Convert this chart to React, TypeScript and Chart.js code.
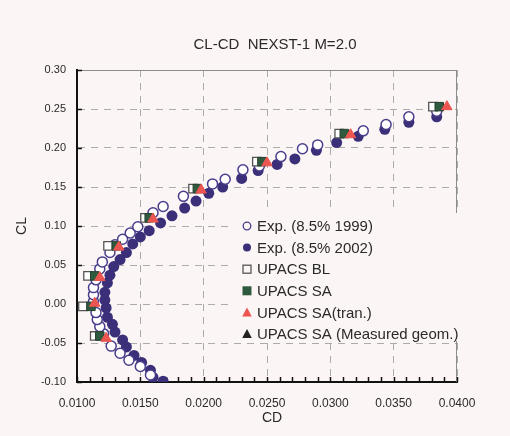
import React, { useEffect, useRef } from "react";
import { Chart, registerables } from "chart.js";

Chart.register(...registerables);

const chartTitle = "CL-CD  NEXST-1 M=2.0";
const xAxisTitle = "CD";
const yAxisTitle = "CL";
const xMin = 0.01;
const xMax = 0.04;
const xStep = 0.005;
const xMinorStep = 0.001;
const yMin = -0.1;
const yMax = 0.3;
const yStep = 0.05;

const legendLabels = [
  "Exp. (8.5% 1999)",
  "Exp. (8.5% 2002)",
  "UPACS BL",
  "UPACS SA",
  "UPACS SA(tran.)",
  "UPACS SA (Measured geom.)",
];

// Exp. (8.5% 1999) - open circles
const exp1999CD = [0.0158, 0.0150, 0.0141, 0.0134, 0.0127, 0.0121, 0.0118, 0.0116, 0.0115, 0.0113, 0.0113, 0.0113, 0.0115, 0.0118, 0.0120, 0.0126, 0.0130, 0.0136, 0.0142, 0.0148, 0.0160, 0.0168, 0.0184, 0.0207, 0.0217, 0.0231, 0.0244, 0.0261, 0.0278, 0.0290, 0.0326, 0.0344, 0.0362, 0.0384];
const exp1999CL = [-0.091, -0.080, -0.072, -0.063, -0.054, -0.038, -0.029, -0.020, -0.011, 0.003, 0.012, 0.021, 0.031, 0.045, 0.054, 0.066, 0.076, 0.083, 0.091, 0.099, 0.117, 0.125, 0.138, 0.154, 0.160, 0.172, 0.177, 0.189, 0.199, 0.204, 0.222, 0.230, 0.240, 0.247];

// Exp. (8.5% 2002) - filled circles
const exp2002CD = [0.0168, 0.0160, 0.0158, 0.0151, 0.0145, 0.0139, 0.0136, 0.0130, 0.0128, 0.0124, 0.0123, 0.0122, 0.0122, 0.0124, 0.0126, 0.0129, 0.0134, 0.0139, 0.0144, 0.0150, 0.0157, 0.0166, 0.0175, 0.0185, 0.0194, 0.0204, 0.0215, 0.0230, 0.0243, 0.0258, 0.0272, 0.0289, 0.0305, 0.0322, 0.0343, 0.0362, 0.0384];
const exp2002CL = [-0.099, -0.094, -0.085, -0.075, -0.066, -0.055, -0.046, -0.036, -0.026, -0.017, -0.005, 0.005, 0.015, 0.027, 0.037, 0.048, 0.057, 0.066, 0.077, 0.086, 0.094, 0.104, 0.113, 0.123, 0.132, 0.142, 0.150, 0.161, 0.171, 0.179, 0.186, 0.197, 0.207, 0.215, 0.224, 0.233, 0.240];

// UPACS BL - open squares
const blCD = [0.0114, 0.01047, 0.01087, 0.01245, 0.01537, 0.01916, 0.0242, 0.0307, 0.0381];
const blCL = [-0.041, -0.003, 0.036, 0.0745, 0.1105, 0.148, 0.1825, 0.2185, 0.253];

// UPACS SA - filled squares
const saCD = [0.0118, 0.0111, 0.0114, 0.0131, 0.0157, 0.0195, 0.0246, 0.0311, 0.0386];
const saCL = [-0.041, -0.003, 0.036, 0.0745, 0.1105, 0.148, 0.1825, 0.2185, 0.253];

// UPACS SA(tran.) - red triangles
const tranCD = [0.0123, 0.0114, 0.0118, 0.0133, 0.0160, 0.0198, 0.0250, 0.0316, 0.0392];
const tranCL = [-0.044, 0.001, 0.034, 0.073, 0.109, 0.146, 0.181, 0.217, 0.253];

// UPACS SA (Measured geom.) - black triangles (no visible points)
const measCD: number[] = [];
const measCL: number[] = [];

const BG = "#fcf5f6";
const OPEN_C = "#4a3e8c";
const FILL_C = "#3a2f78";
const SQ_C = "#555555";
const SA_C = "#2f5a3e";
const TRI_C = "#ec5550";
const GRID_C = "#ababab";
const FONT = "'Liberation Sans', Arial, sans-serif";

const zip = (xs: number[], ys: number[]) => xs.map((x, i) => ({ x, y: ys[i] }));

const decorPlugin = {
  id: "decor",
  beforeDraw(chart: any) {
    const { ctx, width, height } = chart;
    ctx.save();
    ctx.fillStyle = BG;
    ctx.fillRect(0, 0, width, height);
    ctx.restore();
  },
  beforeDatasetsDraw(chart: any) {
    const { ctx, chartArea: a, scales } = chart;
    const xs = scales.x;
    const ys = scales.y;
    ctx.save();
    // top & right frame
    ctx.strokeStyle = "#8c8c8c";
    ctx.lineWidth = 1;
    ctx.setLineDash([]);
    ctx.beginPath();
    ctx.moveTo(a.left, a.top + 0.5);
    ctx.lineTo(a.right - 0.5, a.top + 0.5);
    ctx.lineTo(a.right - 0.5, a.bottom);
    ctx.stroke();
    // legend box background (hides grid behind legend)
    ctx.fillStyle = BG;
    ctx.fillRect(a.left + 152, a.top + 143, a.right - a.left - 150, 128);
    // inward ticks
    ctx.strokeStyle = "#111";
    ctx.lineWidth = 1.5;
    const n = Math.round((xMax - xMin) / xMinorStep);
    for (let i = 0; i <= n; i++) {
      const v = xMin + i * xMinorStep;
      const px = Math.round(xs.getPixelForValue(v)) + 0.5;
      ctx.beginPath();
      ctx.moveTo(px, a.bottom);
      ctx.lineTo(px, a.bottom - 5);
      ctx.stroke();
    }
    const m = Math.round((yMax - yMin) / yStep);
    for (let i = 0; i <= m; i++) {
      const v = yMin + i * yStep;
      const py = Math.round(ys.getPixelForValue(v)) + 0.5;
      ctx.beginPath();
      ctx.moveTo(a.left, py);
      ctx.lineTo(a.left + 5, py);
      ctx.stroke();
    }
    ctx.restore();
  },
  afterDraw(chart: any) {
    const { ctx, chartArea: a } = chart;
    ctx.save();
    ctx.fillStyle = "#2a2a2a";
    // chart title
    ctx.font = `15px ${FONT}`;
    ctx.textAlign = "center";
    ctx.textBaseline = "middle";
    ctx.fillText(chartTitle, a.left + 198, a.top - 25);
    // axis titles
    ctx.font = `14px ${FONT}`;
    ctx.fillText(xAxisTitle, (a.left + a.right) / 2 + 5, a.bottom + 36);
    ctx.save();
    ctx.translate(22, (a.top + a.bottom) / 2);
    ctx.rotate(-Math.PI / 2);
    ctx.fillText(yAxisTitle, 0, 0);
    ctx.restore();
    // legend
    const lx = a.left + 170;
    const ly0 = a.top + 156;
    const dy = 21.6;
    ctx.textAlign = "left";
    ctx.font = `15px ${FONT}`;
    legendLabels.forEach((label, i) => {
      const cy = ly0 + i * dy;
      const cx = lx;
      ctx.save();
      ctx.lineWidth = 1.3;
      if (i === 0) {
        ctx.strokeStyle = OPEN_C;
        ctx.fillStyle = BG;
        ctx.beginPath();
        ctx.arc(cx, cy, 3.8, 0, Math.PI * 2);
        ctx.fill();
        ctx.stroke();
      } else if (i === 1) {
        ctx.fillStyle = FILL_C;
        ctx.beginPath();
        ctx.arc(cx, cy, 4, 0, Math.PI * 2);
        ctx.fill();
      } else if (i === 2) {
        ctx.strokeStyle = SQ_C;
        ctx.fillStyle = BG;
        ctx.fillRect(cx - 4, cy - 4, 8, 8);
        ctx.strokeRect(cx - 4, cy - 4, 8, 8);
      } else if (i === 3) {
        ctx.fillStyle = SA_C;
        ctx.fillRect(cx - 4.5, cy - 4.5, 9, 9);
      } else {
        ctx.fillStyle = i === 4 ? TRI_C : "#222";
        ctx.beginPath();
        ctx.moveTo(cx, cy - 5);
        ctx.lineTo(cx + 4.8, cy + 4);
        ctx.lineTo(cx - 4.8, cy + 4);
        ctx.closePath();
        ctx.fill();
      }
      ctx.restore();
      ctx.fillStyle = "#2a2a2a";
      ctx.textBaseline = "middle";
      ctx.fillText(label, cx + 10, cy + 1);
    });
    ctx.restore();
  },
};

export default function App() {
  const ref = useRef<HTMLCanvasElement | null>(null);
  useEffect(() => {
    document.body.style.margin = "0";
    document.body.style.background = BG;
    const canvas = ref.current;
    if (!canvas) return;
    const chart = new Chart(canvas, {
      type: "scatter",
      data: {
        datasets: [
          {
            label: legendLabels[5],
            data: zip(measCD, measCL),
            pointStyle: "triangle",
            pointRadius: 6,
            backgroundColor: "#222",
            borderColor: "#222",
            order: 0,
          },
          {
            label: legendLabels[4],
            data: zip(tranCD, tranCL),
            pointStyle: "triangle",
            pointRadius: 6,
            backgroundColor: TRI_C,
            borderColor: TRI_C,
            borderWidth: 1,
            order: 1,
          },
          {
            label: legendLabels[3],
            data: zip(saCD, saCL),
            pointStyle: "rect",
            pointRadius: 6,
            backgroundColor: SA_C,
            borderColor: "#243f2e",
            borderWidth: 1,
            order: 2,
          },
          {
            label: legendLabels[2],
            data: zip(blCD, blCL),
            pointStyle: "rect",
            pointRadius: 6,
            backgroundColor: "#ffffff",
            borderColor: SQ_C,
            borderWidth: 1.3,
            order: 3,
          },
          {
            label: legendLabels[0],
            data: zip(exp1999CD, exp1999CL),
            pointStyle: "circle",
            pointRadius: 5,
            backgroundColor: "#ffffff",
            borderColor: OPEN_C,
            borderWidth: 1.5,
            order: 4,
          },
          {
            label: legendLabels[1],
            data: zip(exp2002CD, exp2002CL),
            pointStyle: "circle",
            pointRadius: 5.5,
            backgroundColor: FILL_C,
            borderColor: FILL_C,
            borderWidth: 0,
            order: 5,
          },
        ],
      },
      options: {
        responsive: false,
        animation: false,
        devicePixelRatio: 1,
        layout: { padding: { top: 70, right: 53, left: 0, bottom: 0 } },
        plugins: {
          legend: { display: false },
          title: { display: false },
          tooltip: { enabled: false },
        },
        scales: {
          x: {
            type: "linear",
            min: xMin,
            max: xMax,
            afterFit: (s: any) => {
              s.height = 54;
            },
            ticks: {
              stepSize: xStep,
              padding: 14,
              color: "#2a2a2a",
              font: { family: FONT, size: 12 },
              callback: (v: any) => Number(v).toFixed(4),
            },
            grid: {
              color: GRID_C,
              lineWidth: 1,
              drawTicks: false,
            },
            border: { display: true, color: "#111", width: 2, dash: [7, 6] },
          },
          y: {
            type: "linear",
            min: yMin,
            max: yMax,
            afterFit: (s: any) => {
              s.width = 77;
            },
            ticks: {
              stepSize: yStep,
              padding: 11,
              color: "#2a2a2a",
              font: { family: FONT, size: 11 },
              callback: (v: any) => Number(v).toFixed(2),
            },
            grid: {
              color: GRID_C,
              lineWidth: 1,
              drawTicks: false,
            },
            border: { display: true, color: "#111", width: 2, dash: [7, 6] },
          },
        },
      },
      plugins: [decorPlugin],
    });
    return () => chart.destroy();
  }, []);
  return (
    <div style={{ width: 510, height: 436, background: BG }}>
      <canvas ref={ref} width={510} height={436} style={{ display: "block", width: 510, height: 436 }} />
    </div>
  );
}
